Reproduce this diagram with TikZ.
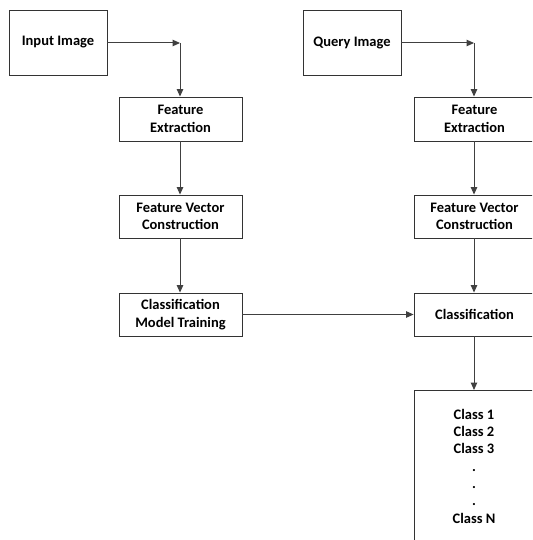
\documentclass[tikz,border=0pt]{standalone}
\usepackage{fontspec}
\setmainfont{Carlito}
\usetikzlibrary{arrows.meta}
\begin{document}
\begin{tikzpicture}[x=1pt,y=-1pt,
  box/.style={draw=black!80,line width=0.9pt,fill=white,align=center,inner sep=0pt,
     font=\bfseries\fontsize{14.5}{17.5}\selectfont,text=black},
  conn/.style={draw=black!75,line width=1pt,-{Triangle[length=7.5pt,width=6.5pt]}}]
\useasboundingbox (0,0) rectangle (532,540);
\clip (0,0) rectangle (532,540);
\fill[white] (0,0) rectangle (532,540);
% left column
\node[box,minimum width=98pt,minimum height=65pt] (in) at (58,42.5) {Input Image};
\node[box,minimum width=123pt,minimum height=44pt] (fe1) at (180.5,119) {Feature\\Extraction};
\node[box,minimum width=123pt,minimum height=43pt] (fv1) at (180.5,216.5) {Feature Vector\\Construction};
\node[box,minimum width=123pt,minimum height=43pt] (cm) at (180.5,314.5) {Classification\\Model Training};
% right column
\node[box,minimum width=98pt,minimum height=65pt] (qi) at (352,42.5) {Query Image};
\node[box,minimum width=121pt,minimum height=44pt] (fe2) at (474.5,119) {Feature\\Extraction};
\node[box,minimum width=121pt,minimum height=43pt] (fv2) at (474.5,216.5) {Feature Vector\\Construction};
\node[box,minimum width=121pt,minimum height=43pt] (cl) at (474.5,314.5) {Classification};
\node[box,minimum width=121pt,minimum height=170pt,anchor=north] (cls) at (474.5,390) {};
\node[font=\bfseries\fontsize{14.5}{17.3}\selectfont,text=black,align=center,anchor=north,inner sep=0pt] (clst) at (474,409)
  {Class 1\\Class 2\\Class 3\\.\\.\\.\\Class N};
% connectors
\coordinate (c1) at (180,43);
\coordinate (c2) at (474,43);
\draw[conn] (in.east |- c1) -- (c1);
\draw[conn] (c1) -- (fe1.north -| c1);
\draw[conn] (qi.east |- c2) -- (c2);
\draw[conn] (c2) -- (fe2.north -| c2);
\draw[conn] (fe1.south -| c1) -- (fv1.north -| c1);
\draw[conn] (fv1.south -| c1) -- (cm.north -| c1);
\draw[conn] (fe2.south -| c2) -- (fv2.north -| c2);
\draw[conn] (fv2.south -| c2) -- (cl.north -| c2);
\draw[conn] (cm.east) -- (cl.west);
\draw[conn] (cl.south -| c2) -- (cls.north -| c2);
\end{tikzpicture}
\end{document}
